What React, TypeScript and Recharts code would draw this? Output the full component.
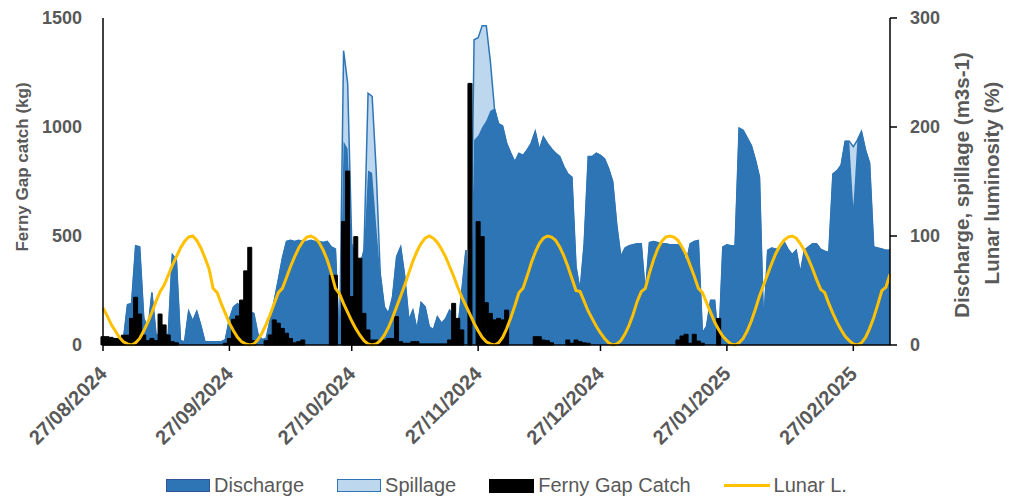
import React from 'react';
import { Area, Bar, ComposedChart, Line, XAxis, YAxis, Label } from 'recharts';

// day 0 = 27/08/2024, one value per day up to 08/03/2025
const discharge = [
  3, 3, 3, 3, 3, 5, 37, 38, 91, 90,
  25, 14, 48, 10, 8, 8, 10, 83, 78, 4,
  3, 31, 22, 31, 18, 3, 3, 3, 3, 3,
  5, 24, 35, 38, 34, 31, 30, 29, 10, 5,
  6, 23, 41, 60, 80, 95, 96, 95, 96, 95,
  95, 96, 95, 95, 94, 95, 90, 88, 0, 187,
  180, 93, 80, 72, 87, 160, 158, 110, 65, 35,
  29, 44, 81, 90, 63, 23, 32, 14, 39, 35,
  17, 14, 26, 20, 24, 32, 26, 14, 50, 87,
  0, 188, 192, 200, 206, 215, 217, 203, 201, 185,
  176, 168, 176, 174, 179, 185, 196, 179, 191, 185,
  180, 176, 173, 164, 157, 154, 72, 50, 93, 173,
  173, 176, 174, 171, 162, 150, 110, 81, 89, 91,
  92, 93, 93, 48, 94, 95, 94, 93, 93, 92,
  92, 92, 90, 75, 93, 95, 96, 11, 17, 41,
  41, 0, 90, 92, 91, 91, 199, 197, 190, 183,
  170, 154, 17, 87, 89, 88, 87, 95, 88, 83,
  87, 66, 87, 90, 93, 93, 88, 86, 85, 157,
  160, 165, 187, 187, 127, 188, 196, 179, 167, 90,
  89, 88, 87, 87,
];

const spillage = [
  0, 0, 0, 0, 0, 0, 0, 0, 0, 0,
  0, 0, 0, 0, 0, 0, 0, 0, 0, 0,
  0, 0, 0, 0, 0, 0, 0, 0, 0, 0,
  0, 0, 0, 0, 0, 0, 0, 0, 0, 0,
  0, 0, 0, 0, 0, 0, 0, 0, 0, 0,
  0, 0, 0, 0, 0, 0, 0, 0, 0, 83,
  60, 0, 0, 0, 0, 71, 70, 50, 0, 0,
  0, 0, 0, 0, 0, 0, 0, 0, 0, 0,
  0, 0, 0, 0, 0, 0, 0, 0, 0, 0,
  0, 92, 90, 93, 87, 45, 0, 0, 0, 0,
  0, 0, 0, 0, 0, 0, 0, 0, 0, 0,
  0, 0, 0, 0, 0, 0, 0, 0, 0, 0,
  0, 0, 0, 0, 0, 0, 0, 0, 0, 0,
  0, 0, 0, 0, 0, 0, 0, 0, 0, 0,
  0, 0, 0, 0, 0, 0, 0, 0, 0, 0,
  0, 0, 0, 0, 0, 0, 0, 0, 0, 0,
  0, 0, 0, 0, 0, 0, 0, 0, 0, 0,
  0, 0, 0, 0, 0, 0, 0, 0, 0, 0,
  0, 0, 0, 0, 55, 0, 0, 0, 0, 0,
  0, 0, 0, 0,
];

const catchKg = [
  38, 38, 35, 30, 30, 45, 45, 122, 219, 142,
  46, 20, 30, 20, 142, 92, 46, 15, 10, 0,
  0, 0, 0, 0, 0, 0, 0, 0, 0, 0,
  8, 30, 118, 133, 206, 340, 448, 20, 0, 0,
  20, 46, 115, 100, 76, 54, 30, 10, 15, 23,
  0, 0, 0, 0, 0, 0, 320, 320, 0, 566,
  798, 222, 497, 398, 145, 69, 23, 23, 15, 23,
  30, 30, 130, 15, 8, 8, 15, 15, 5, 5,
  5, 5, 5, 5, 5, 23, 191, 122, 69, 0,
  1200, 0, 566, 497, 194, 145, 115, 122, 115, 160,
  0, 0, 0, 0, 0, 0, 38, 38, 23, 20,
  10, 0, 0, 0, 23, 8, 23, 15, 10, 8,
  0, 0, 0, 0, 0, 0, 0, 0, 0, 0,
  0, 0, 0, 0, 0, 0, 0, 0, 0, 0,
  0, 23, 41, 49, 8, 49, 18, 8, 0, 0,
  0, 122, 0, 0, 0, 0, 0, 0, 0, 0,
  0, 0, 0, 0, 0, 0, 0, 0, 0, 0,
  0, 0, 0, 0, 0, 0, 0, 0, 0, 0,
  0, 0, 0, 0, 0, 0, 0, 0, 0, 0,
  0, 0, 0, 0,
];

const lunar = [
  34, 27, 19, 13, 7, 3, 1, 0, 2, 6,
  13, 21, 30, 40, 49, 55, 64, 73, 81, 89,
  95, 99, 100, 96, 89, 80, 70, 52, 48, 38,
  29, 20, 13, 7, 3, 1, 0, 1, 5, 11,
  19, 28, 38, 48, 52, 62, 72, 81, 89, 95,
  99, 100, 98, 94, 87, 78, 66, 52, 47, 38,
  30, 22, 15, 9, 4, 1, 0, 1, 4, 9,
  16, 25, 35, 45, 55, 66, 77, 86, 93, 98,
  100, 98, 94, 88, 81, 72, 63, 53, 44, 36,
  28, 20, 13, 7, 3, 1, 0, 2, 7, 15,
  25, 36, 48, 52, 63, 75, 85, 93, 98, 100,
  99, 96, 90, 82, 72, 61, 50, 49, 40, 31,
  24, 17, 11, 6, 2, 0, 1, 4, 10, 18,
  28, 40, 49, 52, 66, 78, 88, 95, 99, 100,
  99, 96, 90, 83, 73, 63, 52, 48, 39, 30,
  21, 14, 8, 4, 1, 0, 2, 6, 13, 22,
  33, 45, 55, 65, 75, 84, 91, 96, 99, 100,
  98, 93, 87, 79, 70, 60, 51, 48, 38, 29,
  21, 14, 8, 4, 1, 0, 2, 7, 15, 25,
  37, 50, 53, 65,
];

const tickDays = [0, 31, 61, 92, 122, 153, 184];
const tickLabels = ['27/08/2024', '27/09/2024', '27/10/2024', '27/11/2024', '27/12/2024', '27/01/2025', '27/02/2025'];
const leftTicks = [0, 500, 1000, 1500];
const rightTicks = [0, 100, 200, 300];

const data = discharge.map((d, i) => ({
  day: i,
  discharge: d,
  spillage: spillage[i],
  catchKg: catchKg[i],
  lunar: lunar[i],
}));

const FONT = '"Liberation Sans", Arial, sans-serif';
const GREY = '#595959';

function DateTick({ x, y, payload }: any) {
  const i = tickDays.indexOf(payload.value);
  const ax = x + 5;
  const ay = y + 22;
  return (
    <text
      x={ax}
      y={ay}
      transform={`rotate(-45 ${ax} ${ay})`}
      textAnchor="end"
      fill={GREY}
      fontFamily={FONT}
      fontWeight="bold"
      fontSize={20}
    >
      {tickLabels[i]}
    </text>
  );
}

function LegendBox() {
  const item = { display: 'flex', alignItems: 'center', gap: 4 } as const;
  return (
    <div
      style={{
        position: 'absolute',
        left: 166,
        top: 474,
        display: 'flex',
        gap: 33,
        fontFamily: FONT,
        fontSize: 20,
        color: GREY,
      }}
    >
      <div style={item}>
        <span style={{ width: 42, height: 11, background: '#2E75B6', border: '1.5px solid #2F5597' }} />
        <span>Discharge</span>
      </div>
      <div style={item}>
        <span style={{ width: 42, height: 11, background: '#BDD7EE', border: '1.5px solid #2E75B6' }} />
        <span>Spillage</span>
      </div>
      <div style={item}>
        <span style={{ width: 45, height: 14, background: '#000' }} />
        <span>Ferny Gap Catch</span>
      </div>
      <div style={item}>
        <span style={{ width: 46, height: 3, background: '#FFC000' }} />
        <span>Lunar L.</span>
      </div>
    </div>
  );
}

export default function App() {
  return (
    <div style={{ position: 'absolute', left: 0, top: 0, width: 1010, height: 499, background: '#fff' }}>
      <ComposedChart
        width={1010}
        height={499}
        data={data}
        margin={{ top: 18, right: 0, bottom: 0, left: 0 }}
        barGap={0}
        barCategoryGap={0}
      >
        <XAxis
          dataKey="day"
          type="number"
          domain={[0, 193]}
          ticks={tickDays}
          interval={0}
          height={154}
          axisLine={{ stroke: '#000', strokeWidth: 1.5 }}
          tickLine={{ stroke: '#000', strokeWidth: 1.5 }}
          tickSize={6}
          tick={<DateTick />}
        />
        <YAxis
          yAxisId="left"
          domain={[0, 1500]}
          ticks={leftTicks}
          width={103}
          axisLine={{ stroke: '#000', strokeWidth: 1.5 }}
          tickLine={false}
          tickMargin={15}
          tick={{ fill: GREY, fontFamily: FONT, fontWeight: 'bold', fontSize: 18 }}
        >
          <Label
            content={() => (
              <text
                x={28}
                y={167}
                transform="rotate(-90 28 167)"
                textAnchor="middle"
                fill={GREY}
                fontFamily={FONT}
                fontWeight="bold"
                fontSize={17}
              >
                Ferny Gap catch (kg)
              </text>
            )}
          />
        </YAxis>
        <YAxis
          yAxisId="right"
          orientation="right"
          domain={[0, 300]}
          ticks={rightTicks}
          width={120}
          axisLine={{ stroke: '#000', strokeWidth: 1.5 }}
          tickLine={{ stroke: '#000', strokeWidth: 1.5 }}
          tickSize={7}
          tickMargin={13}
          tick={{ fill: GREY, fontFamily: FONT, fontWeight: 'bold', fontSize: 18 }}
        >
          <Label
            content={() => (
              <g fill={GREY} fontFamily={FONT} fontWeight="bold" fontSize={20.5}>
                <text x={969} y={185} transform="rotate(-90 969 185)" textAnchor="middle">
                  Discharge, spillage (m3s-1)
                </text>
                <text x={999} y={183} transform="rotate(-90 999 183)" textAnchor="middle">
                  Lunar luminosity (%)
                </text>
              </g>
            )}
          />
        </YAxis>
        <Area
          yAxisId="right"
          type="linear"
          dataKey="discharge"
          stackId="flow"
          stroke="#2E75B6"
          strokeWidth={1}
          fill="#2E75B6"
          fillOpacity={1}
          isAnimationActive={false}
        />
        <Area
          yAxisId="right"
          type="linear"
          dataKey="spillage"
          stackId="flow"
          stroke="#2E75B6"
          strokeWidth={1.5}
          fill="#BDD7EE"
          fillOpacity={1}
          isAnimationActive={false}
        />
        <Bar
          yAxisId="left"
          dataKey="catchKg"
          fill="#000"
          stroke="#000"
          strokeWidth={1}
          barSize={4}
          isAnimationActive={false}
        />
        <Line
          yAxisId="right"
          type="linear"
          dataKey="lunar"
          stroke="#FFC000"
          strokeWidth={3}
          dot={false}
          activeDot={false}
          isAnimationActive={false}
        />
      </ComposedChart>
      <LegendBox />
    </div>
  );
}
